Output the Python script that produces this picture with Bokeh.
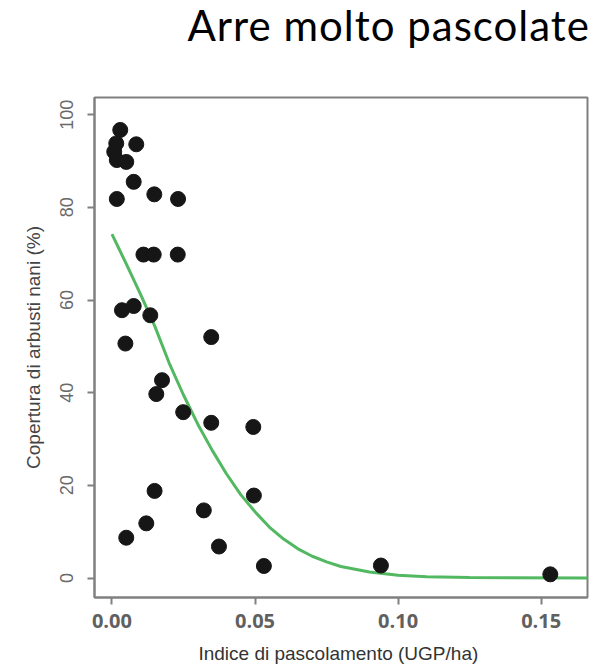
from bokeh.plotting import figure
from bokeh.models import Range1d, FixedTicker, NumeralTickFormatter, Div
from bokeh.layouts import column
from bokeh.embed import file_html
from bokeh.resources import INLINE

# --- data ---
pts_x = [0.0029, 0.0085, 0.0015, 0.0008, 0.0017, 0.0050, 0.0076, 0.0017, 0.0148, 0.0231,
         0.0110, 0.0146, 0.0230, 0.0035, 0.0076, 0.0134, 0.0347, 0.0047, 0.0175, 0.0155,
         0.0249, 0.0347, 0.0494, 0.0149, 0.0496, 0.0321, 0.0120, 0.0050, 0.0374, 0.0531,
         0.0940, 0.1532]
pts_y = [96.7, 93.6, 93.8, 92.0, 90.2, 89.8, 85.5, 81.8, 82.8, 81.8,
         69.8, 69.8, 69.8, 57.8, 58.7, 56.7, 52.0, 50.6, 42.7, 39.7,
         35.8, 33.5, 32.6, 18.8, 17.8, 14.6, 11.8, 8.7, 6.8, 2.6,
         2.7, 0.8]

curve_x = [0.000, 0.005, 0.010, 0.015, 0.020, 0.025, 0.030, 0.035, 0.040, 0.045,
           0.050, 0.055, 0.060, 0.065, 0.070, 0.075, 0.080, 0.090, 0.100, 0.110,
           0.125, 0.1662]
curve_y = [74.2, 67.8, 61.2, 54.3, 46.4, 39.5, 33.2, 27.6, 22.5, 18.0,
           14.3, 11.0, 8.4, 6.3, 4.7, 3.5, 2.5, 1.3, 0.6, 0.3,
           0.1, 0.0]

x_ticks = [0.0, 0.05, 0.10, 0.15]
y_ticks = [0, 20, 40, 60, 80, 100]

title_text = "Arre molto pascolate"
x_label = "Indice di pascolamento  (UGP/ha)"
y_label = "Copertura di arbusti nani (%)"

p = figure(frame_width=493, frame_height=500,
           x_range=Range1d(-0.0061, 0.1662), y_range=Range1d(-4.2, 103.7),
           output_backend="svg", toolbar_location=None,
           min_border_left=94, min_border_right=8, min_border_top=47, min_border_bottom=40,
           background_fill_color="white", border_fill_color="white")

p.grid.visible = False
p.outline_line_color = "#808080"
p.outline_line_width = 2

for ax in (p.xaxis, p.yaxis):
    ax.axis_line_color = "#808080"
    ax.axis_line_width = 2
    ax.major_tick_line_color = "#808080"
    ax.major_tick_line_width = 2
    ax.major_tick_out = 7
    ax.major_tick_in = 0
    ax.minor_tick_line_color = None

p.xaxis.ticker = FixedTicker(ticks=x_ticks)
p.xaxis.formatter = NumeralTickFormatter(format="0.00")
p.xaxis.major_label_text_font = "Open Sans"
p.xaxis.major_label_text_font_style = "bold"
p.xaxis.major_label_text_font_size = "20px"
p.xaxis.major_label_text_color = "#606060"
p.xaxis.major_label_standoff = 9
p.xaxis.axis_label = x_label
p.xaxis.axis_label_text_font = "Liberation Sans"
p.xaxis.axis_label_text_font_size = "19px"
p.xaxis.axis_label_text_font_style = "normal"
p.xaxis.axis_label_text_color = "#333333"
p.xaxis.axis_label_standoff = 12

p.yaxis.ticker = FixedTicker(ticks=y_ticks)
p.yaxis.major_label_orientation = "vertical"
p.yaxis.major_label_text_font = "Liberation Sans"
p.yaxis.major_label_text_font_size = "18px"
p.yaxis.major_label_text_color = "#6a6a6a"
p.yaxis.major_label_standoff = 14
p.yaxis.axis_label = y_label
p.yaxis.axis_label_text_font = "Liberation Sans"
p.yaxis.axis_label_text_font_size = "19px"
p.yaxis.axis_label_text_font_style = "normal"
p.yaxis.axis_label_text_color = "#444444"
p.yaxis.axis_label_standoff = 14

p.line(curve_x, curve_y, line_color="#52b861", line_width=3)
p.scatter(pts_x, pts_y, size=15, fill_color="#161616", line_color="#161616")

title = Div(text=title_text, width=595, height=50,
            styles={"font-family": "Lato", "font-size": "42px", "line-height": "normal",
                    "letter-spacing": "1px",
                    "text-align": "right", "color": "#000000", "padding-top": "0px",
                    "padding-right": "5px", "box-sizing": "border-box",
                    "width": "595px", "margin": "0", "white-space": "nowrap"})

layout = column(title, p, spacing=0)

open("out.html", "w").write(file_html(layout, INLINE))
